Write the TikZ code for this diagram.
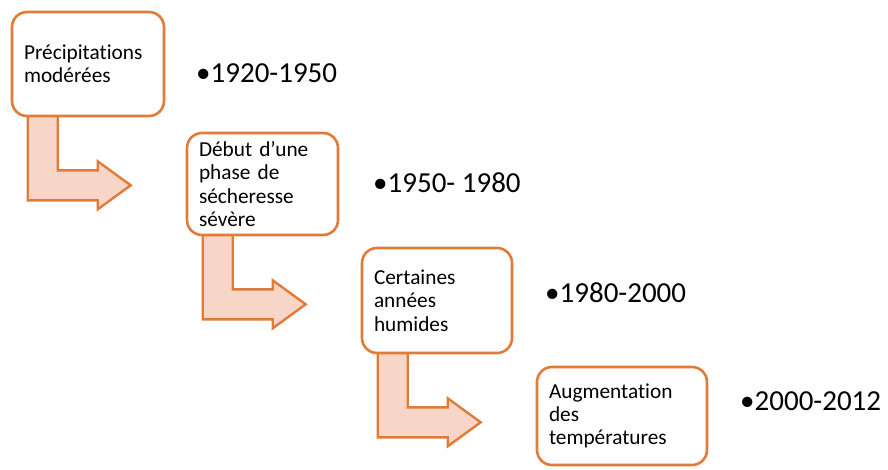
\documentclass[tikz,border=0pt]{standalone}
\usepackage{fontspec}
\setmainfont[Ligatures={NoCommon,NoRare}]{Carlito}
\usepackage{xcolor}
\usetikzlibrary{backgrounds}
\definecolor{accent}{HTML}{E27B37}
\definecolor{arrowfill}{HTML}{F7D5C7}
\tikzset{
  phase/.style={draw=accent, line width=2.6pt, rounded corners=15pt, fill=white,
    align=left, inner xsep=12pt, inner ysep=0pt, font=\fontsize{21.3}{23.3}\selectfont},
  period/.style={anchor=base west, inner sep=0pt, font=\fontsize{29}{33}\selectfont},
  bentarrow/.style={draw=accent, fill=arrowfill, line width=2.4pt, line join=miter}
}

\begin{document}
\begin{tikzpicture}[x=1pt,y=-1pt]
  \useasboundingbox (0,0) rectangle (888,469);
  \node[phase, text width=128pt, minimum height=104pt] (b1) at (88,64)
    {Précipitations\\modérées};
  \node[phase, text width=127pt, minimum height=102pt] (b2) at (262.5,184)
    {Début d’une\\phase de\\sécheresse\\sévère};
  \node[phase, text width=126pt, minimum height=105pt] (b3) at (437,300.5)
    {Certaines\\années\\humides};
  \node[phase, text width=146pt, minimum height=98pt] (b4) at (622,416)
    {Augmentation\\des\\températures};
  \begin{scope}[on background layer]
    \foreach \b in {b1,b2,b3}
      \draw[bentarrow, shift={(\b.south west)}] (17,-10) -- (17,83) -- (87,83)
        -- (87,92) -- (120,68) -- (87,44) -- (87,53) -- (47,53) -- (47,-10) -- cycle;
  \end{scope}
  \node[period] (d1) at (196,82) {•1920-1950};
  \node[period] (d2) at (373,192) {•1950- 1980};
  \node[period] (d3) at (545,302) {•1980-2000};
  \node[period] (d4) at (740,410) {•2000-2012};
\end{tikzpicture}
\end{document}
